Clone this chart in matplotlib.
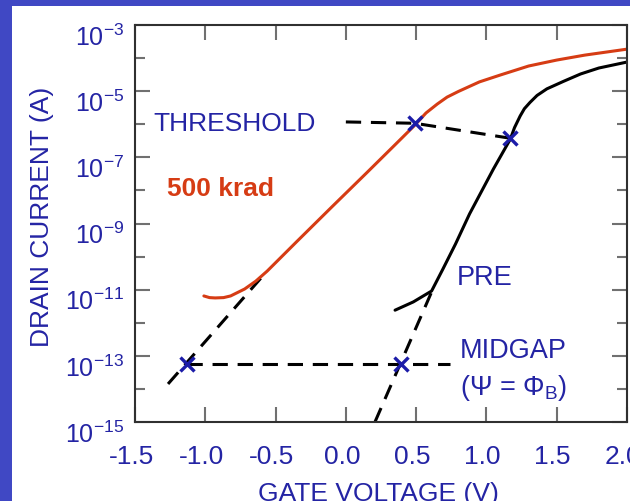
import numpy as np
import matplotlib
matplotlib.use("Agg")
import matplotlib.pyplot as plt
from matplotlib.ticker import FixedLocator, FixedFormatter, NullFormatter
import matplotlib.transforms as mtransforms
from matplotlib.patches import Rectangle

plt.rcParams['font.family'] = ['Liberation Sans', 'DejaVu Sans']
plt.rcParams['mathtext.fontset'] = 'custom'
plt.rcParams['mathtext.rm'] = 'Liberation Sans'
plt.rcParams['mathtext.it'] = 'Liberation Sans'
plt.rcParams['mathtext.bf'] = 'Liberation Sans:bold'
plt.rcParams['axes.unicode_minus'] = False

# 500 krad curve (gate voltage, log10 drain current)
red_v = [-1.01, -0.97, -0.93, -0.87, -0.82, -0.72, -0.64, -0.56, -0.35, -0.10, 0.15, 0.35, 0.49,
         0.57, 0.65, 0.72, 0.80, 0.95, 1.10, 1.30, 1.50, 1.70, 2.00]
red_log = [-11.19, -11.24, -11.25, -11.24, -11.19, -10.98, -10.74, -10.44, -9.55, -8.50, -7.46, -6.62, -6.03,
           -5.66, -5.39, -5.18, -5.01, -4.72, -4.51, -4.24, -4.06, -3.91, -3.73]

# PRE curve
pre_v = [0.35, 0.48, 0.61, 0.69, 0.78, 0.88, 1.05, 1.17, 1.20, 1.24, 1.27, 1.31, 1.36, 1.43, 1.55, 1.67, 1.80, 2.00]
pre_log = [-11.62, -11.37, -11.04, -10.38, -9.62, -8.71, -7.35, -6.45, -6.10, -5.75, -5.53, -5.34, -5.13, -4.93,
           -4.70, -4.48, -4.30, -4.12]

# dashed construction lines
thr_v = [0.0, 0.49, 1.165]
thr_log = [-5.93, -5.97, -6.42]
mid_v = [-1.13, 0.74]
mid_log = [-13.25, -13.25]
ext_red_v = [-1.265, -0.561]
ext_red_log = [-13.85, -10.44]
ext_pre_v = [0.207, 0.613]
ext_pre_log = [-15.0, -11.04]

# x markers
thr_x_v = [0.49, 1.165]
thr_x_log = [-5.97, -6.42]
mid_x_v = [-1.13, 0.392]
mid_x_log = [-13.25, -13.25]

xticks = [-1.5, -1.0, -0.5, 0.0, 0.5, 1.0, 1.5, 2.0]
xticklabels = ['-1.5', '-1.0', '-0.5', '0.0', '0.5', '1.0', '1.5', '2.0']
yexp_major = [-3, -5, -7, -9, -11, -13, -15]
yexp_minor = [-4, -6, -8, -10, -12, -14]

blue_txt = '#2424a4'
red_col = '#d63c14'
border = '#4048c4'

fig = plt.figure(figsize=(6.3, 5.02), dpi=100, facecolor=border)
fig.patches.append(Rectangle((12/630, 0), 1, 1 - 7/502, transform=fig.transFigure,
                             facecolor='white', edgecolor='none', zorder=-10))
ax = fig.add_axes([135/630, 1 - 423/502, 492/630, 397/502])
ax.set_facecolor('white')
ax.set_yscale('log')

p = lambda a: 10.0 ** np.array(a)
dash = (5, 3.2)
ax.plot(thr_v, p(thr_log), color='black', lw=2.2, dashes=dash)
ax.plot(mid_v, p(mid_log), color='black', lw=2.2, dashes=dash)
ax.plot(ext_red_v, p(ext_red_log), color='black', lw=2.2, dashes=dash)
ax.plot(ext_pre_v, p(ext_pre_log), color='black', lw=2.2, dashes=dash)
ax.plot(red_v, p(red_log), color=red_col, lw=2.2, solid_capstyle='round', solid_joinstyle='round')
ax.plot(pre_v, p(pre_log), color='black', lw=2.2, solid_capstyle='round', solid_joinstyle='round')
ax.plot(thr_x_v, p(thr_x_log), ls='none', marker='x', ms=10, mew=2.4, color='#1c1ca8', zorder=5)
ax.plot(mid_x_v, p(mid_x_log), ls='none', marker='x', ms=10, mew=2.4, color='#1c1ca8', zorder=5)

ax.set_xlim(-1.5, 2.0)
ax.set_ylim(1e-15, 1e-3)
ax.xaxis.set_major_locator(FixedLocator(xticks))
ax.xaxis.set_major_formatter(FixedFormatter(xticklabels))
ax.yaxis.set_major_locator(FixedLocator([10.0 ** e for e in yexp_major]))
ax.yaxis.set_major_formatter(FixedFormatter([r'$10^{%d}$' % e for e in yexp_major]))
ax.yaxis.set_minor_locator(FixedLocator([10.0 ** e for e in yexp_minor]))
ax.yaxis.set_minor_formatter(NullFormatter())

ax.tick_params(which='both', direction='in', top=True, right=True, color='#707070', width=1.5)
ax.tick_params(which='major', length=11)
ax.tick_params(which='minor', length=7)
ax.tick_params(axis='x', labelsize=19, labelcolor=blue_txt, pad=16)
ax.tick_params(axis='y', labelsize=18, labelcolor=blue_txt, pad=8)
off = mtransforms.ScaledTranslation(0, -9/100, fig.dpi_scale_trans)
for lab in ax.get_yticklabels():
    lab.set_transform(lab.get_transform() + off)
off_x = mtransforms.ScaledTranslation(-4/100, 0, fig.dpi_scale_trans)
for lab in ax.get_xticklabels():
    lab.set_transform(lab.get_transform() + off_x)
for s in ax.spines.values():
    s.set_color('#303030')
    s.set_linewidth(1.5)

ax.text(-1.372, p(-5.96), 'THRESHOLD', color=blue_txt, fontsize=19, ha='left', va='center')
ax.text(-1.272, p(-7.93), '500 krad', color=red_col, fontsize=19, fontweight='bold', ha='left', va='center')
ax.text(0.791, p(-10.62), 'PRE', color=blue_txt, fontsize=19.5, ha='left', va='center')
ax.text(0.812, p(-12.82), 'MIDGAP', color=blue_txt, fontsize=19.5, ha='left', va='center')
ax.text(0.812, p(-13.94), r'($\Psi$ = $\Phi_{\mathrm{B}}$)', color=blue_txt, fontsize=19.5, ha='left', va='center')

fig.text(42/630, 1 - 217/502, 'DRAIN CURRENT (A)', rotation=90, color=blue_txt, fontsize=19, ha='center', va='center')
fig.text(378/630, 1 - 494/502, 'GATE VOLTAGE (V)', color=blue_txt, fontsize=19, ha='center', va='center')

fig.savefig('out.png', dpi=100, facecolor=border)
